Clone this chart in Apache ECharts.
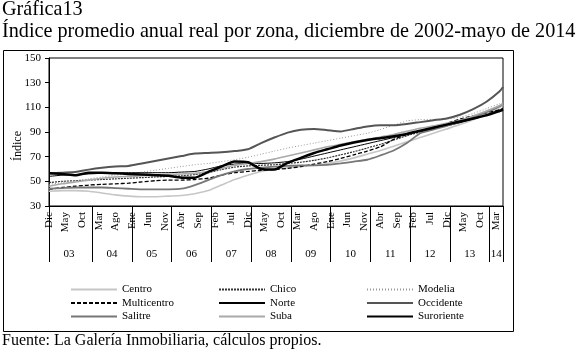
<!DOCTYPE html>
<html>
<head>
<meta charset="utf-8">
<script src="https://cdn.jsdelivr.net/npm/echarts@6/dist/echarts.min.js"></script>
<style>
  html, body { margin: 0; padding: 0; background: #fff; }
  #chart { width: 580px; height: 350px; }
</style>
</head>
<body>
<div id="chart"></div>
<script>
// meses Dic 2002 - May 2014
var monthNames = ['Dic', 'Ene', 'Feb', 'Mar', 'Abr', 'May', 'Jun', 'Jul', 'Ago', 'Sep', 'Oct', 'Nov'];
var yearLabels = ['03', '04', '05', '06', '07', '08', '09', '10', '11', '12', '13', '14'];
var yearBounds = [0, 13, 25, 37, 49, 61, 73, 85, 97, 109, 121, 133, 137];
var yearLabelAt = [6, 19, 31, 43, 55, 67, 79, 91, 103, 115, 127, 135];
var yTicks = [30, 50, 70, 90, 110, 130, 150];

// meses leidos (indice desde Dic 2002)
var sampleMonths = [0, 4, 8, 12, 16, 20, 24, 28, 32, 36, 40, 44, 48, 52, 56, 60, 64, 68,
    72, 76, 80, 84, 88, 92, 96, 100, 104, 108, 112, 116, 120, 124, 128, 132, 136, 137];

var centro = [42, 42.5, 42.5, 42, 40.5, 39, 38, 37.5, 37.5, 38, 38.5, 40, 42.5, 47, 51.5, 55, 58, 60,
    61, 62, 63, 64.5, 66.5, 69, 72, 75, 78.5, 82, 85.5, 89, 92.5, 96, 100, 104.5, 110, 112];
var chico = [49, 50, 50.5, 51, 51.5, 52, 52.5, 53, 53.5, 54, 54.5, 55.5, 57, 59.5, 61.5, 62.5, 63, 63.5,
    64.5, 65.5, 67, 69, 71.5, 74, 77, 80, 83.5, 87, 90, 93, 96, 99, 102, 106, 111, 112.5];
var modelia = [47.5, 49, 50.5, 52, 53.5, 55, 56, 57.5, 59, 60.5, 62, 63.5, 64.5, 66, 67.5, 69.5, 72, 74.5,
    77, 79, 81, 83, 85, 87, 89, 92, 95.5, 99, 100, 100.3, 100.5, 102, 105, 109, 113, 114];
var multicentro = [43.5, 45, 46, 47, 47.5, 48, 48.5, 49.5, 50.5, 51, 51, 51.5, 52.5, 55, 57, 58, 59, 59.5,
    60.5, 62, 64, 66, 68.5, 71.5, 74.5, 78, 84, 88, 91, 94, 97, 100.5, 103, 105.5, 108, 109];
var norte = [54, 55, 55.5, 56, 56.5, 57, 57, 57, 57, 57, 57.5, 58, 60, 62.5, 64, 64.5, 64.5, 65,
    66, 68, 70.5, 73, 75.5, 78, 80.5, 83, 85.5, 88, 90.5, 93, 95, 97.5, 100.5, 104, 108, 109];
var occidente = [56.5, 57, 57.5, 59.5, 61, 62, 62.5, 64.5, 66.5, 68.5, 70.5, 72.5, 73, 73.5, 74.5, 76, 81, 85.5,
    89.5, 91.8, 92.5, 91.5, 90.5, 92.5, 94.5, 95.5, 95.5, 96.5, 98, 99.5, 101, 104, 108.5, 114.5, 123, 126.5];
var salitre = [44, 44.5, 45, 45, 45, 44.5, 44, 43.5, 43.5, 43.5, 44, 47, 51, 55, 58, 60, 61, 62,
    62.5, 63, 63, 63.3, 64.5, 66, 67.5, 71, 75, 81, 89, 92, 95, 98.5, 102, 106, 111, 113];
var suba = [46, 48, 49.5, 51, 52.5, 53.5, 54, 54.5, 55, 55.5, 56, 56.5, 58, 60.5, 63, 64.5, 66, 68,
    70.5, 73, 75.5, 78, 80, 82, 84, 86, 88, 90.5, 93, 95, 97, 99.5, 103, 107, 111.5, 113];
var suroriente = [56.5, 56, 55, 57, 57, 56.5, 56, 55.5, 55, 54.5, 53, 53, 57.5, 62, 66, 65.5, 60, 59.5,
    65, 69, 73, 76, 79, 81.5, 83.5, 85, 86.5, 88.5, 91, 93.5, 96, 98.5, 101, 103.5, 107, 108];

// categorias mensuales
var months = [];
for (var i = 0; i < 138; i++) {
    months.push(monthNames[i % 12]);
}

function pairs(vals) {
    return sampleMonths.map(function (m, i) { return [m, vals[i]]; });
}

var serifFont = '"Liberation Serif", "DejaVu Serif", serif';

var lineDefs = [
    { name: 'Centro', data: centro, color: '#c6c6c6', width: 1.6, type: 'solid' },
    { name: 'Chico', data: chico, color: '#333333', width: 1.2, type: [2, 1] },
    { name: 'Modelia', data: modelia, color: '#9a9a9a', width: 1, type: [1, 2] },
    { name: 'Multicentro', data: multicentro, color: '#000000', width: 1.3, type: [4, 2] },
    { name: 'Norte', data: norte, color: '#000000', width: 1, type: 'solid' },
    { name: 'Occidente', data: occidente, color: '#555555', width: 2, type: 'solid' },
    { name: 'Salitre', data: salitre, color: '#777777', width: 1.8, type: 'solid' },
    { name: 'Suba', data: suba, color: '#aaaaaa', width: 1.6, type: 'solid' },
    { name: 'Suroriente', data: suroriente, color: '#000000', width: 2.5, type: 'solid' }
];

var series = lineDefs.map(function (d) {
    return {
        name: d.name,
        type: 'line',
        data: pairs(d.data),
        symbol: 'none',
        smooth: 0.2,
        color: d.color,
        lineStyle: { color: d.color, width: d.width, type: d.type },
        animation: false
    };
});

function legendCol(names, left) {
    return {
        data: names,
        orient: 'vertical',
        left: left,
        top: 278,
        itemWidth: 46,
        itemHeight: 8,
        itemGap: 0.5,
        itemStyle: { color: 'rgba(0,0,0,0)', borderColor: 'rgba(0,0,0,0)', borderWidth: 0, opacity: 0 },
        textStyle: { fontFamily: serifFont, fontSize: 11, lineHeight: 13, color: '#000' },
        selectedMode: false
    };
}

var chart = echarts.init(document.getElementById('chart'), null, { renderer: 'canvas' });

var option = {
    backgroundColor: '#fff',
    animation: false,
    textStyle: { fontFamily: serifFont },
    title: [
        { text: 'Gráfica13', left: 2, top: 0, padding: 0,
          textStyle: { fontFamily: serifFont, fontSize: 20.2, fontWeight: 'normal', color: '#000' } },
        { text: 'Índice promedio anual real por zona, diciembre de 2002-mayo de 2014', left: 2, top: 22, padding: 0,
          textStyle: { fontFamily: serifFont, fontSize: 20.2, fontWeight: 'normal', color: '#000' } },
        { text: 'Fuente: La Galería Inmobiliaria, cálculos propios.', left: 2, top: 333, padding: 0,
          textStyle: { fontFamily: serifFont, fontSize: 16, fontWeight: 'normal', color: '#000' } }
    ],
    graphic: [
        { type: 'rect', shape: { x: 3.5, y: 50.5, width: 510, height: 281 },
          style: { fill: 'none', stroke: '#000', lineWidth: 1 }, silent: true },
        { type: 'text', x: 18, y: 146, rotation: Math.PI / 2,
          style: { text: 'Índice', fontFamily: serifFont, fontSize: 12, fill: '#000',
                   textAlign: 'center', textVerticalAlign: 'middle' }, silent: true }
    ],
    legend: [
        legendCol(['Centro', 'Multicentro', 'Salitre'], 65),
        legendCol(['Chico', 'Norte', 'Suba'], 213),
        legendCol(['Modelia', 'Occidente', 'Suroriente'], 361)
    ],
    grid: {
        left: 49, top: 58, width: 454, height: 148,
        show: true, borderColor: '#000', borderWidth: 1, backgroundColor: 'transparent'
    },
    xAxis: [
        {
            type: 'category',
            data: months,
            boundaryGap: false,
            axisLine: { lineStyle: { color: '#000', width: 1 } },
            axisTick: { show: false },
            axisLabel: {
                rotate: 90,
                margin: 6,
                fontFamily: serifFont,
                fontSize: 11,
                color: '#000',
                interval: function (idx) { return idx % 5 === 0; }
            },
            splitLine: { show: false }
        },
        {
            type: 'category',
            data: months,
            boundaryGap: false,
            position: 'bottom',
            axisLine: { show: false },
            axisTick: {
                show: true,
                length: 56,
                lineStyle: { color: '#000', width: 1 },
                interval: function (idx) { return yearBounds.indexOf(idx) >= 0; }
            },
            axisLabel: {
                margin: 43,
                fontFamily: serifFont,
                fontSize: 11,
                color: '#000',
                interval: function (idx) { return yearLabelAt.indexOf(idx) >= 0; },
                formatter: function (val, idx) {
                    var k = yearLabelAt.indexOf(idx);
                    return k >= 0 ? yearLabels[k] : '';
                }
            },
            splitLine: { show: false }
        }
    ],
    yAxis: {
        type: 'value',
        min: yTicks[0],
        max: yTicks[yTicks.length - 1],
        interval: 20,
        axisLine: { show: true, lineStyle: { color: '#000', width: 1 } },
        axisTick: { show: true, length: 4, lineStyle: { color: '#000' } },
        axisLabel: { fontFamily: serifFont, fontSize: 11, color: '#000', margin: 8 },
        splitLine: { show: false }
    },
    series: series
};

chart.setOption(option);
</script>
</body>
</html>
